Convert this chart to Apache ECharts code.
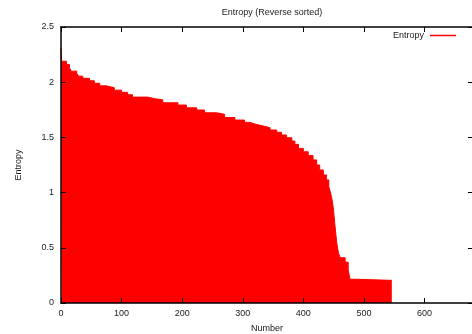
<!DOCTYPE html>
<html>
<head>
<meta charset="utf-8">
<script src="https://cdn.jsdelivr.net/npm/echarts@6/dist/echarts.min.js"></script>
<style>
  html, body { margin: 0; padding: 0; background: #fff; }
  #chart { width: 472px; height: 334px; }
</style>
</head>
<body>
<div id="chart"></div>
<script>
// Entropy per item, sorted in descending order; each value holds from its
// start index until the next start index (step plot filled to zero).
const stepStarts = [0, 1, 9, 14, 17, 26, 29, 36, 47, 55, 64, 75, 88, 100, 110, 118,
  143, 155, 168, 193, 207, 224, 237, 257, 270, 287, 303, 312, 320, 334, 345, 356,
  364, 372, 381, 386, 392, 400, 408, 416, 422, 427, 433, 438, 442, 445, 448, 450,
  452, 455, 458, 461, 469, 474, 477, 487, 546];
const entropyValues = [2.31, 2.19, 2.16, 2.13, 2.10, 2.08, 2.055, 2.035, 2.013, 1.99,
  1.967, 1.95, 1.928, 1.908, 1.886, 1.865, 1.85, 1.84, 1.814, 1.793, 1.768, 1.748,
  1.723, 1.709, 1.68, 1.657, 1.636, 1.621, 1.603, 1.588, 1.567, 1.546, 1.522, 1.497,
  1.467, 1.437, 1.40, 1.37, 1.335, 1.296, 1.25, 1.205, 1.16, 1.115, 1.054, 0.995,
  0.92, 0.83, 0.71, 0.55, 0.45, 0.41, 0.37, 0.30, 0.215, 0.205, 0.205];
const xTicks = [0, 100, 200, 300, 400, 500, 600];
const yTicks = [0, 0.5, 1, 1.5, 2, 2.5];

const FONT = '"Liberation Sans", Arial, Helvetica, sans-serif';
const TEXT = '#1a1a1a';

const seriesData = stepStarts.map((x, i) => [x, entropyValues[i]]);

const chart = echarts.init(document.getElementById('chart'), null, { renderer: 'canvas' });

const baseTick = { show: true, inside: true, length: 5, lineStyle: { color: '#000', width: 1 } };
const baseLine = { show: true, onZero: false, lineStyle: { color: '#000', width: 1.5 } };

chart.setOption({
  animation: false,
  backgroundColor: '#fff',
  title: {
    text: 'Entropy (Reverse sorted)',
    left: 267, textAlign: 'center', top: 3,
    textStyle: { fontFamily: FONT, fontSize: 9, fontWeight: 'normal', color: TEXT }
  },
  legend: {
    data: ['Entropy'],
    right: 11, top: 26,
    align: 'right',
    icon: 'rect',
    itemWidth: 26, itemHeight: 1.5,
    textStyle: { fontFamily: FONT, fontSize: 9, color: TEXT, padding: [0, 1, 0, 0] }
  },
  grid: { left: 61, right: -1, top: 27, bottom: 31, containLabel: false, outerBoundsMode: 'none' },
  xAxis: [{
    type: 'value', min: 0, max: 680, interval: 100, z: 5,
    name: 'Number', nameLocation: 'middle', nameGap: 21,
    nameTextStyle: { fontFamily: FONT, fontSize: 9, color: TEXT },
    axisLine: baseLine, axisTick: baseTick,
    axisLabel: {
      fontFamily: FONT, fontSize: 9, color: TEXT, margin: 6,
      showMaxLabel: false,
      formatter: v => (xTicks.includes(v) ? String(v) : '')
    },
    splitLine: { show: false }
  }, {
    type: 'value', min: 0, max: 680, interval: 100, position: 'top', z: 5,
    axisLine: baseLine, axisTick: baseTick,
    axisLabel: { show: false }, splitLine: { show: false }
  }],
  yAxis: [{
    type: 'value', min: 0, max: 2.5, interval: 0.5, z: 5,
    name: 'Entropy', nameLocation: 'middle', nameGap: 38,
    nameTextStyle: { fontFamily: FONT, fontSize: 9, color: TEXT },
    axisLine: baseLine, axisTick: baseTick,
    axisLabel: {
      fontFamily: FONT, fontSize: 9, color: TEXT, margin: 7,
      formatter: v => (yTicks.includes(v) ? String(v) : '')
    },
    splitLine: { show: false }
  }, {
    type: 'value', min: 0, max: 2.5, interval: 0.5, position: 'right', z: 5,
    axisLine: baseLine, axisTick: baseTick,
    axisLabel: { show: false }, splitLine: { show: false }
  }],
  series: [{
    name: 'Entropy',
    type: 'line',
    step: 'end',
    data: seriesData,
    symbol: 'none',
    color: '#ff0000',
    lineStyle: { color: '#ff0000', width: 1 },
    areaStyle: { color: '#ff0000', opacity: 1, origin: 'start' },
    z: 1
  }]
});
</script>
</body>
</html>
